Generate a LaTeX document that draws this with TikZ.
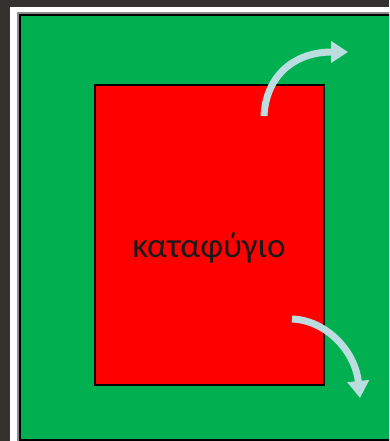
\documentclass[tikz,border=0pt]{standalone}
\usepackage{fontspec}
\newfontfamily\greekfont{Carlito}
\usetikzlibrary{arrows.meta}
\definecolor{roccia}{HTML}{34322E}
\definecolor{zona}{HTML}{00B050}
\definecolor{rifugio}{HTML}{FF0000}
\definecolor{freccia}{HTML}{BCDDE0}
\tikzset{
  cornice/.style = {fill=white},
  ombra/.style   = {fill=black!45},
  area/.style    = {fill=zona, draw=black, line width=2pt},
  riparo/.style  = {rectangle, draw=black, line width=2.5pt, fill=rifugio, minimum width=229pt, minimum height=300pt, inner sep=0},
  nome/.style    = {font=\greekfont\fontsize{35}{40}\selectfont, text=black!90, anchor=base, inner sep=0},
  uscita/.style  = {freccia, line width=7pt, -{Triangle[width=21pt,length=17pt]}}
}
\begin{document}
\begin{tikzpicture}[x=1pt,y=-1pt]
  \useasboundingbox (0,0) rectangle (389,441);
  \clip (0,0) rectangle (389,441);
  \fill[roccia] (0,0) rectangle (389,441);
  \fill[cornice] (10,7) rectangle (400,450);
  \fill[ombra] (17,12) rectangle (400,450);
  \filldraw[area] (20,15) rectangle (402,440);
  \node[riparo] (R) at (209.5,235) {};
  \node[nome] (n) at (209,257) {καταφύγιο};
  \coordinate (a1) at (264,116); \coordinate (b1) at (348,52);
  \coordinate (a2) at (292,319); \coordinate (b2) at (360,398);
  \draw[uscita] (a1) .. controls (266,75) and (295,52) .. (b1);
  \draw[uscita] (a2) .. controls (325,320) and (355,350) .. (b2);
\end{tikzpicture}
\end{document}
